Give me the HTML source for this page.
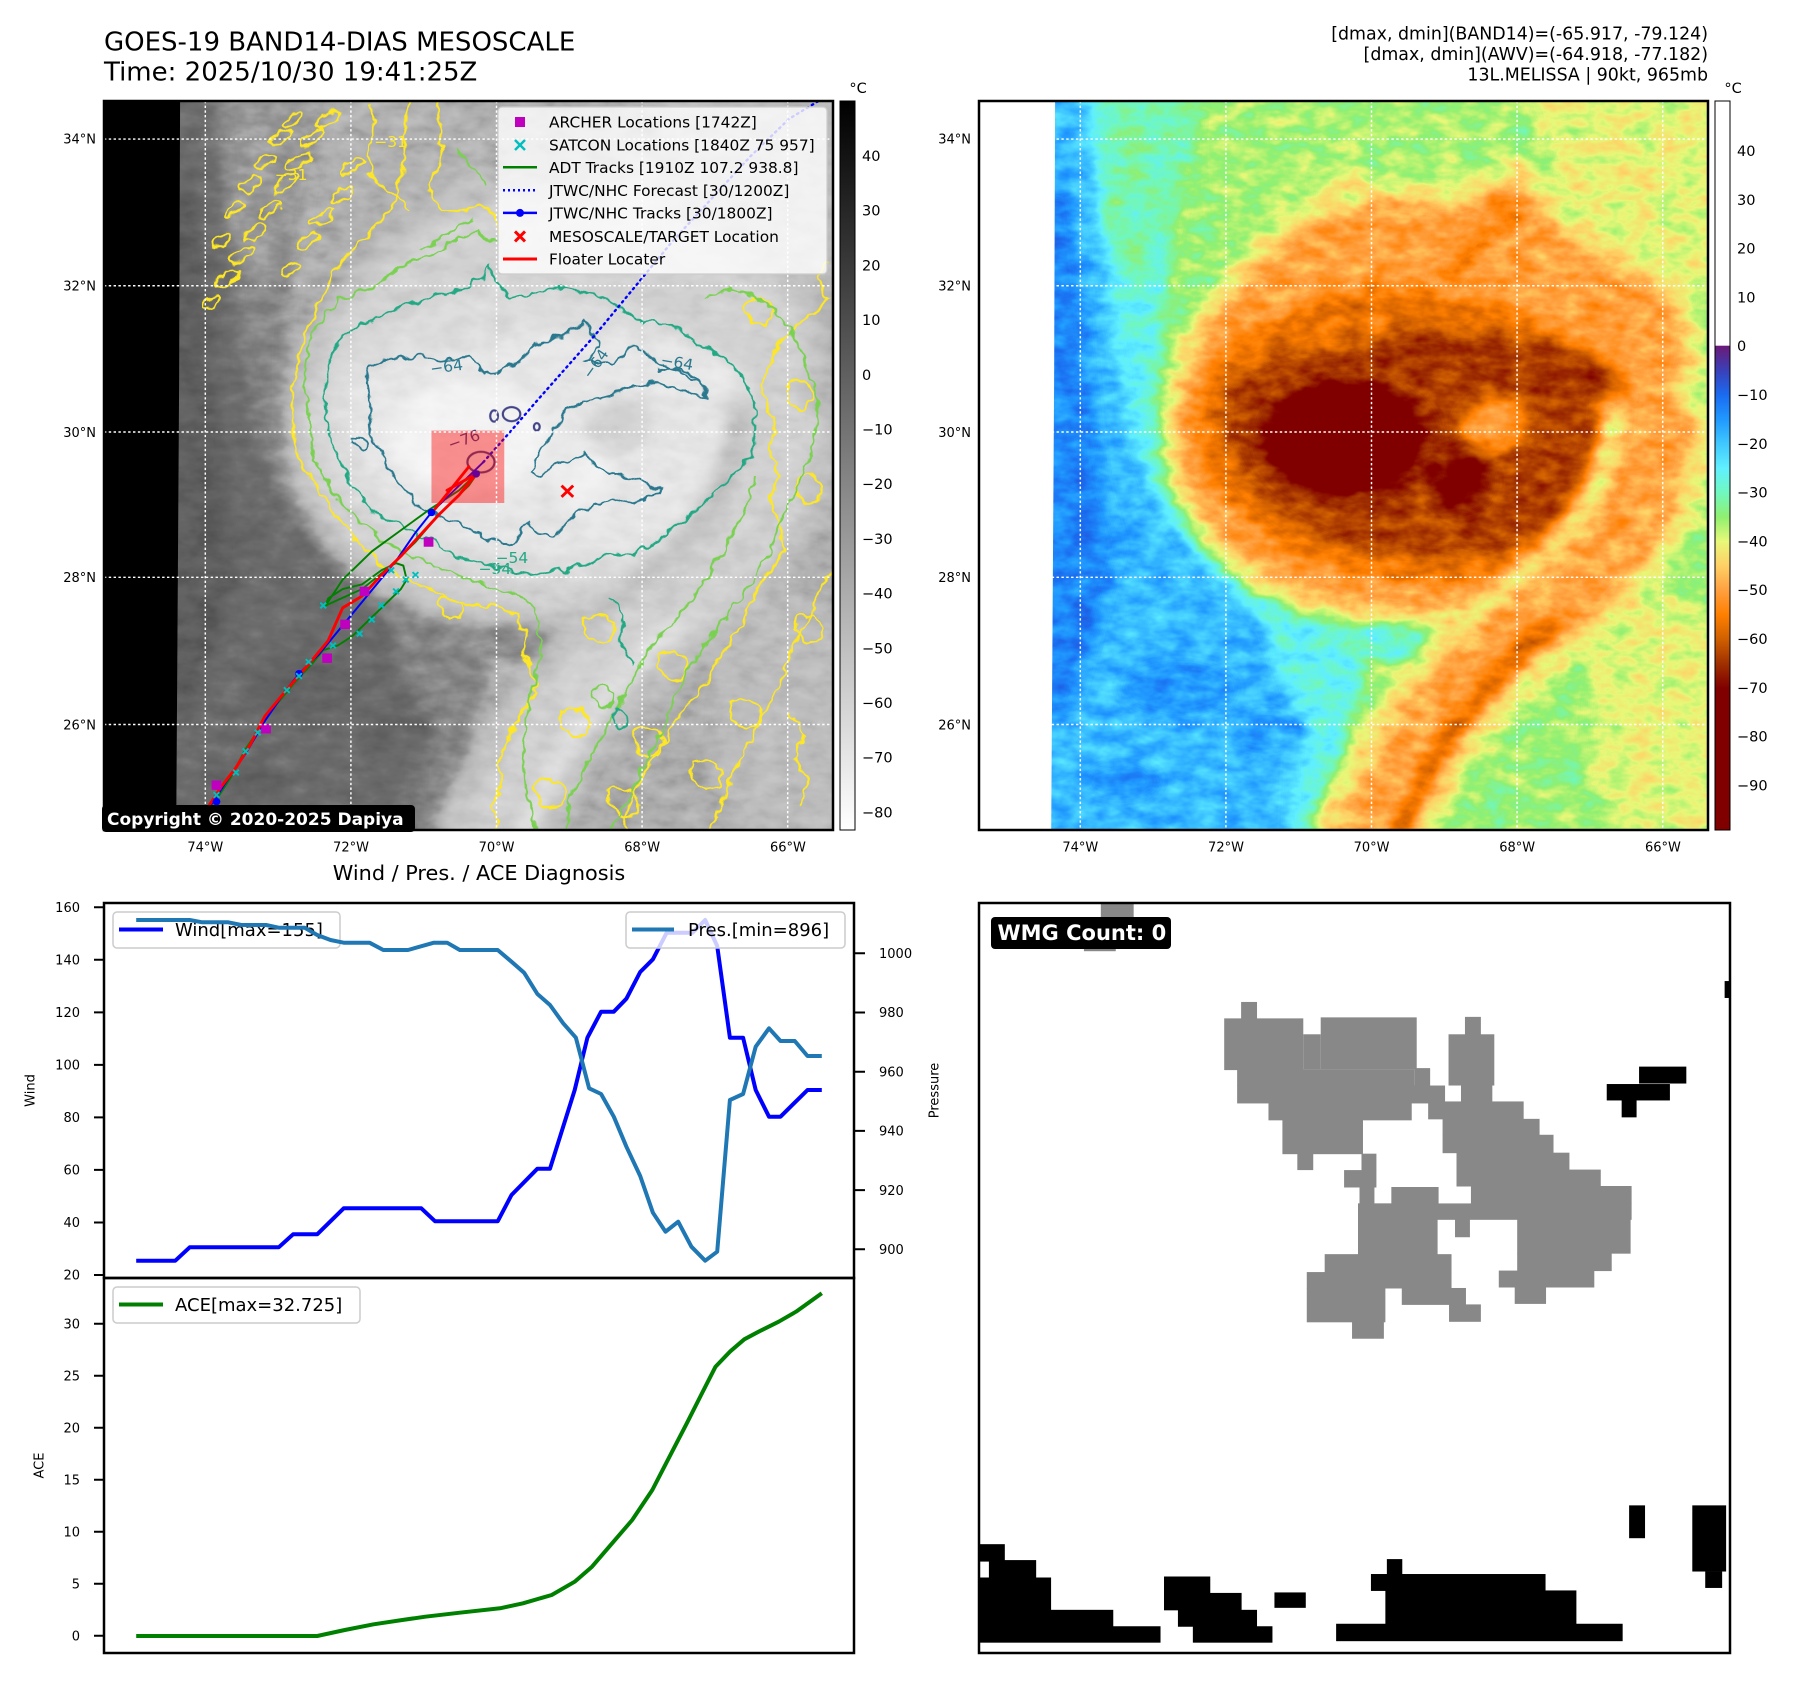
<!DOCTYPE html>
<html><head><meta charset="utf-8">
<style>
html,body{margin:0;padding:0;background:#fff;}
svg{display:block;}
text{font-family:"DejaVu Sans","Liberation Sans",sans-serif;}
</style></head>
<body>
<svg xmlns="http://www.w3.org/2000/svg" xmlns:xlink="http://www.w3.org/1999/xlink" width="1797" height="1690" viewBox="0 0 1797 1690">
<defs>
  <linearGradient id="gL" x1="0" y1="0" x2="0" y2="1">
    <stop offset="0" stop-color="#000"/><stop offset="1" stop-color="#fff"/>
  </linearGradient>
  <linearGradient id="gR" x1="0" y1="0" x2="0" y2="1">
    <stop offset="0" stop-color="#fff"/>
    <stop offset="0.335" stop-color="#fff"/>
    <stop offset="0.3363" stop-color="#6a1a78"/>
    <stop offset="0.3698" stop-color="#3a40b8"/>
    <stop offset="0.4033" stop-color="#1a6bf0"/>
    <stop offset="0.4368" stop-color="#2099ff"/>
    <stop offset="0.4703" stop-color="#40c8ff"/>
    <stop offset="0.5037" stop-color="#60f0ff"/>
    <stop offset="0.5372" stop-color="#70f8c0"/>
    <stop offset="0.5707" stop-color="#90f070"/>
    <stop offset="0.6042" stop-color="#e8f878"/>
    <stop offset="0.6377" stop-color="#ffd066"/>
    <stop offset="0.6711" stop-color="#ffa040"/>
    <stop offset="0.7046" stop-color="#ff8000"/>
    <stop offset="0.7381" stop-color="#d06000"/>
    <stop offset="0.7716" stop-color="#a03000"/>
    <stop offset="0.8051" stop-color="#800000"/>
    <stop offset="1" stop-color="#800000"/>
  </linearGradient>
  <clipPath id="mapclip"><rect x="8" y="2" width="1502" height="1550"/></clipPath>
  <filter id="fL" filterUnits="userSpaceOnUse" x="-60" y="-60" width="1700" height="1700" color-interpolation-filters="sRGB">
    <feGaussianBlur in="SourceGraphic" stdDeviation="14" result="b"/>
    <feTurbulence type="fractalNoise" baseFrequency="0.02 0.035" numOctaves="3" seed="3" result="t"/>
    <feColorMatrix in="t" type="matrix" values="1 0 0 0 0  1 0 0 0 0  1 0 0 0 0  0 0 0 0 1" result="n"/>
    <feComposite in="b" in2="n" operator="arithmetic" k1="0" k2="1" k3="0.10" k4="-0.05" result="c"/>
    <feComponentTransfer in="c">
      <feFuncR type="table" tableValues="0 .02 .04 .06 .08 .1 .12 .14 .16 .18 .22 .28 .34 .39 .43 .5 .58 .68 .74 .78 .82 .85 .88 .91 .93 .95 .97 .98"/>
      <feFuncG type="table" tableValues="0 .02 .04 .06 .08 .1 .12 .14 .16 .18 .22 .28 .34 .39 .43 .5 .58 .68 .74 .78 .82 .85 .88 .91 .93 .95 .97 .98"/>
      <feFuncB type="table" tableValues="0 .02 .04 .06 .08 .1 .12 .14 .16 .18 .22 .28 .34 .39 .43 .5 .58 .68 .74 .78 .82 .85 .88 .91 .93 .95 .97 .98"/>
    </feComponentTransfer>
  </filter>
  <filter id="fR" filterUnits="userSpaceOnUse" x="-60" y="-60" width="1700" height="1700" color-interpolation-filters="sRGB">
    <feGaussianBlur in="SourceGraphic" stdDeviation="14" result="b"/>
    <feTurbulence type="fractalNoise" baseFrequency="0.02 0.035" numOctaves="3" seed="3" result="t"/>
    <feColorMatrix in="t" type="matrix" values="1 0 0 0 0  1 0 0 0 0  1 0 0 0 0  0 0 0 0 1" result="n"/>
    <feComposite in="b" in2="n" operator="arithmetic" k1="0" k2="1" k3="0.10" k4="-0.05" result="c"/>
    <feComponentTransfer in="c">
      <feFuncR type="table" tableValues="1 1 1 1 1 1 1 1 1 1 .416 .227 .102 .125 .25 .376 .44 .565 .91 1 1 1 .816 .627 .502 .502 .502 .502"/>
      <feFuncG type="table" tableValues="1 1 1 1 1 1 1 1 1 1 .102 .251 .42 .6 .78 .94 .97 .94 .97 .82 .63 .5 .376 .19 0 0 0 0"/>
      <feFuncB type="table" tableValues="1 1 1 1 1 1 1 1 1 1 .471 .722 .94 1 1 1 .75 .44 .47 .4 .25 0 0 0 0 0 0 0"/>
    </feComponentTransfer>
  </filter>
  <filter id="jag" filterUnits="userSpaceOnUse" x="-60" y="-60" width="1700" height="1700">
    <feTurbulence type="fractalNoise" baseFrequency="0.04" numOctaves="2" seed="7" result="t"/>
    <feDisplacementMap in="SourceGraphic" in2="t" scale="24" xChannelSelector="R" yChannelSelector="G"/>
  </filter>
  <g id="field">
    <rect x="-100" y="-100" width="1800" height="1800" fill="#a1a1a1"/>
    <path d="M450,-100 L1700,-100 L1700,480 L1420,420 L1250,330 L1100,250 L900,200 L700,230 L560,300 L480,250 Z" fill="#a3a3a3"/>
    <path d="M1100,-100 L1700,-100 L1700,450 L1450,400 L1250,280 Z" fill="#aaaaaa"/>
    <ellipse cx="760" cy="180" rx="60" ry="40" fill="#acacac"/>
    <ellipse cx="1300" cy="150" rx="120" ry="60" fill="#acacac"/>
    <path d="M-100,-100 L480,-100 L440,150 L400,350 L380,500 L380,650 L400,800 L470,920 L600,1030 L740,1090 L800,1200 L760,1400 L740,1700 L-100,1700 Z" fill="#919191"/>
    <path d="M250,-100 L470,-100 L440,150 L410,330 L330,400 L270,300 Z" fill="#999999"/>
    <path d="M-100,-100 L230,-100 L250,200 L280,450 L320,700 L380,870 L480,1000 L600,1120 L660,1300 L640,1700 L-100,1700 Z" fill="#828282"/>
    <path d="M-100,200 L200,200 L230,500 L260,800 L300,950 L260,1100 L200,1300 L-100,1300 Z" fill="#777777"/>
    <ellipse cx="420" cy="1250" rx="120" ry="60" fill="#7b7b7b"/>
    <ellipse cx="600" cy="1340" rx="90" ry="50" fill="#7d7d7d"/>
    <ellipse cx="300" cy="1450" rx="80" ry="40" fill="#7b7b7b"/>
    <ellipse cx="1430" cy="1330" rx="170" ry="270" fill="#aaaaaa"/>
    <ellipse cx="1500" cy="720" rx="50" ry="220" fill="#a4a4a4"/>
    <path d="M380,720 C380,540 480,390 580,300 C690,195 820,160 920,180 C1000,190 1060,150 1130,110 C1180,210 1280,290 1390,330 C1500,390 1520,520 1480,630 C1460,780 1440,930 1360,1040 C1270,1120 1100,1110 1000,1120 C850,1140 690,1110 580,1050 C470,970 390,870 380,720 Z" fill="#aeaeae"/>
    <path d="M420,720 C420,560 510,420 600,330 C700,230 820,200 920,220 C1000,230 1060,200 1120,160 C1160,250 1260,330 1360,370 C1460,420 1480,520 1440,620 C1420,760 1400,900 1330,1000 C1250,1080 1100,1070 1000,1080 C850,1100 700,1070 600,1010 C500,940 430,850 420,720 Z" fill="#bdbdbd"/>
    <path d="M450,700 C450,570 530,490 620,470 C720,400 850,380 960,410 C1060,430 1160,460 1260,520 C1350,570 1390,710 1370,850 C1350,960 1250,1010 1150,1020 C1000,1030 850,1030 720,990 C600,950 470,830 450,700 Z" fill="#cacaca"/>
    <path d="M510,640 C540,540 680,520 800,530 C900,490 1000,470 1100,510 C1210,540 1310,620 1320,760 C1320,870 1230,940 1100,955 C950,980 800,965 700,925 C590,880 500,760 510,640 Z" fill="#d6d6d6"/>
    <path d="M960,380 L1120,230" stroke="#c8c8c8" stroke-width="40" fill="none"/>
    <ellipse cx="770" cy="720" rx="190" ry="140" fill="#dcdcdc"/>
    <ellipse cx="1160" cy="565" rx="170" ry="50" transform="rotate(12 1160 565)" fill="#d8d8d8"/>
    <ellipse cx="900" cy="540" rx="100" ry="45" fill="#dadada"/>
    <ellipse cx="1000" cy="810" rx="70" ry="70" fill="#dedede"/>
    <ellipse cx="760" cy="720" rx="160" ry="115" fill="#eeeeee"/>
    <ellipse cx="995" cy="805" rx="45" ry="50" fill="#e8e8e8"/>
    <ellipse cx="1070" cy="690" rx="70" ry="60" fill="#c0c0c0"/>
    <path d="M800,1600 C880,1380 1000,1220 1150,1110 C1300,1000 1400,880 1410,650" stroke="#aeaeae" stroke-width="240" fill="none"/>
    <path d="M800,1600 C880,1380 1000,1220 1150,1110 C1300,1000 1400,880 1410,650" stroke="#bcbcbc" stroke-width="140" fill="none"/>
    <path d="M880,1560 C960,1360 1060,1220 1200,1100" stroke="#cecece" stroke-width="40" fill="none"/>
    <ellipse cx="850" cy="1150" rx="80" ry="40" fill="#939393"/>
  </g>
</defs>

<!-- Titles -->
<text x="104" y="50.5" font-size="26">GOES-19 BAND14-DIAS MESOSCALE</text>
<text x="104" y="80.5" font-size="26">Time: 2025/10/30 19:41:25Z</text>
<text x="1708" y="39.5" font-size="17.4" text-anchor="end">[dmax, dmin](BAND14)=(-65.917, -79.124)</text>
<text x="1708" y="60" font-size="17.4" text-anchor="end">[dmax, dmin](AWV)=(-64.918, -77.182)</text>
<text x="1708" y="80.5" font-size="17.4" text-anchor="end">13L.MELISSA | 90kt, 965mb</text>

<!-- LEFT MAP -->
<svg x="100" y="100" width="760" height="735" viewBox="0 0 1566 1563" preserveAspectRatio="none">
  <g clip-path="url(#mapclip)">
    <use href="#field" xlink:href="#field" filter="url(#fL)"/>
    <path d="M8,2 L165,2 L163,600 L157,1552 L8,1552 Z" fill="#000"/>
    <g fill="none" stroke-width="4.5" stroke-linejoin="round" filter="url(#jag)">
      <g stroke="#fde725">
        <path d="M640,5 L625,60 630,120 615,180 600,230 570,270 540,300 510,330 480,370 460,420 440,460 420,500 410,540 400,600 395,660 400,720 410,760 430,800 460,840 480,880 510,910 540,950 580,990 620,1010 660,1040 700,1050 740,1070 790,1075 830,1080 860,1100 880,1140 870,1180 890,1220 900,1260 870,1300 850,1340 830,1380 820,1420 830,1460 810,1500 820,1555"/>
        <path d="M1500,340 L1480,380 1500,420 1470,460 1440,470 1400,520 1380,560 1360,620 1390,680 1380,740 1400,800 1380,850 1400,900 1410,960 1380,1000 1350,1050 1330,1100 1300,1150 1270,1200 1240,1250 1200,1300 1170,1350 1140,1400 1110,1450 1090,1500 1080,1555"/>
        <path d="M1510,1000 L1480,1050 1450,1120 1420,1180 1400,1250 1360,1320 1330,1380 1300,1440 1280,1500 1260,1555"/>
        <g>
          <ellipse cx="260" cy="380" rx="28" ry="11" transform="rotate(-35 260 380)"/>
          <ellipse cx="290" cy="330" rx="28" ry="11" transform="rotate(-35 290 330)"/>
          <ellipse cx="250" cy="300" rx="24" ry="10" transform="rotate(-35 250 300)"/>
          <ellipse cx="320" cy="280" rx="28" ry="11" transform="rotate(-35 320 280)"/>
          <ellipse cx="280" cy="230" rx="24" ry="10" transform="rotate(-35 280 230)"/>
          <ellipse cx="350" cy="230" rx="28" ry="11" transform="rotate(-35 350 230)"/>
          <ellipse cx="310" cy="180" rx="24" ry="10" transform="rotate(-35 310 180)"/>
          <ellipse cx="380" cy="180" rx="28" ry="11" transform="rotate(-35 380 180)"/>
          <ellipse cx="340" cy="130" rx="24" ry="10" transform="rotate(-35 340 130)"/>
          <ellipse cx="410" cy="130" rx="28" ry="11" transform="rotate(-35 410 130)"/>
          <ellipse cx="370" cy="80" rx="24" ry="10" transform="rotate(-35 370 80)"/>
          <ellipse cx="440" cy="80" rx="28" ry="11" transform="rotate(-35 440 80)"/>
          <ellipse cx="400" cy="40" rx="24" ry="10" transform="rotate(-35 400 40)"/>
          <ellipse cx="470" cy="40" rx="28" ry="11" transform="rotate(-35 470 40)"/>
          <ellipse cx="430" cy="300" rx="26" ry="10" transform="rotate(-35 430 300)"/>
          <ellipse cx="460" cy="250" rx="26" ry="10" transform="rotate(-35 460 250)"/>
          <ellipse cx="500" cy="200" rx="26" ry="10" transform="rotate(-35 500 200)"/>
          <ellipse cx="520" cy="140" rx="26" ry="10" transform="rotate(-35 520 140)"/>
          <ellipse cx="395" cy="360" rx="22" ry="9" transform="rotate(-35 395 360)"/>
          <ellipse cx="230" cy="430" rx="20" ry="8" transform="rotate(-35 230 430)"/>
        </g>
        <path d="M560,5 C580,60 540,110 560,160 C580,200 620,190 640,240"/>
        <path d="M700,5 C690,60 720,110 690,160 C660,210 700,250 760,230 C800,215 820,240 820,280"/>
        <path d="M1000,1100 C1040,1080 1080,1120 1050,1150 C1020,1170 990,1130 1000,1100 Z"/>
        <path d="M1150,1180 C1190,1160 1230,1200 1200,1230 C1170,1250 1140,1210 1150,1180 Z"/>
        <path d="M950,1300 C990,1280 1030,1320 1000,1350 C970,1370 940,1330 950,1300 Z"/>
        <path d="M900,1450 C940,1430 980,1470 950,1500 C920,1520 890,1480 900,1450 Z"/>
        <path d="M1100,1340 C1140,1320 1180,1360 1150,1390 C1120,1410 1090,1370 1100,1340 Z"/>
        <path d="M1050,1470 C1090,1450 1130,1490 1100,1520 C1070,1540 1040,1500 1050,1470 Z"/>
        <path d="M1220,1410 C1260,1390 1300,1430 1270,1460 C1240,1480 1210,1440 1220,1410 Z"/>
        <path d="M1300,1280 C1340,1260 1380,1300 1350,1330 C1320,1350 1290,1310 1300,1280 Z"/>
        <path d="M1420,600 C1450,580 1480,620 1460,650 C1430,670 1400,630 1420,600 Z"/>
        <path d="M1440,800 C1470,780 1500,820 1480,850 C1450,870 1420,830 1440,800 Z"/>
        <path d="M1420,1300 L1450,1350 1430,1400 1460,1450 1440,1500"/>
        <path d="M1330,430 C1360,410 1400,440 1380,470 C1350,490 1320,460 1330,430 Z"/>
        <path d="M1440,1100 C1470,1080 1500,1120 1480,1150 C1450,1170 1420,1130 1440,1100 Z"/>
        <path d="M700,1060 C730,1050 760,1080 740,1100 C715,1110 690,1085 700,1060 Z"/>
      </g>
      <g stroke="#7ad151">
        <path d="M430,520 L460,460 500,420 560,400 600,370 650,340 700,320 740,290 780,280 800,300 820,300"/>
        <path d="M1250,420 L1300,400 1350,420 1400,460 1440,520 1470,600 1480,680 1460,760 1430,840 1400,900 1380,960 1350,1020 1300,1080 1260,1140 1220,1200 1190,1260 1160,1330 1130,1400 1100,1460 1070,1520 1050,1555"/>
        <path d="M430,520 L420,600 430,680 440,760 470,820 510,870 560,920 620,960 690,990 760,1020 820,1040 880,1060 900,1100 910,1160 900,1220 880,1300 870,1400 880,1480 900,1555"/>
        <path d="M960,1555 L970,1480 1000,1420 1030,1360 1060,1300 1100,1230 1130,1170 1170,1120 1220,1060 1260,1000 1300,930 1330,870 1350,800"/>
        <path d="M660,320 L690,300 720,285 750,265 770,250"/>
        <path d="M740,110 C760,130 780,150 790,180"/>
        <path d="M1020,1250 C1050,1240 1070,1270 1050,1290 C1030,1300 1010,1275 1020,1250 Z"/>
      </g>
      <path stroke="#22a884" d="M470,560 L500,500 530,485 560,470 590,455 620,440 650,430 680,420 720,410 760,400 790,370 800,350 815,380 840,420 870,415 900,410 930,400 960,400 1000,410 1040,420 1080,450 1120,470 1150,475 1180,480 1210,500 1230,520 1260,530 1300,560 1330,600 1340,620 1350,660 1350,700 1345,740 1340,760 1310,790 1300,800 1270,830 1250,850 1220,880 1200,900 1170,920 1150,940 1120,955 1100,970 1070,965 1050,960 1020,980 1000,990 970,995 950,1000 920,1005 900,1010 870,1005 850,1000 820,995 800,990 780,985 760,980 740,970 720,960 700,950 690,940 670,930 650,920 630,910 610,900 580,885 560,870 540,845 520,820 505,790 490,760 480,730 470,700 465,660 460,630 465,600 Z"/>
      <path stroke="#22a884" d="M1050,1060 L1080,1100 1070,1150 1100,1200"/>
      <path stroke="#22a884" d="M1060,1300 C1080,1290 1100,1310 1085,1330 C1070,1340 1050,1320 1060,1300 Z"/>
      <path stroke="#2a788e" d="M550,570 L600,550 660,545 700,555 760,545 790,580 830,575 860,560 900,520 950,500 1000,470 1030,520 1000,560 1060,560 1100,520 1150,560 1200,580 1240,600 1250,630 1200,620 1150,600 1100,610 1050,630 1000,640 960,660 940,700 920,730 900,760 890,790 900,800 950,770 1000,750 1030,790 1080,800 1120,810 1160,830 1100,860 1060,850 1020,860 980,880 960,900 940,930 900,920 880,900 860,930 850,945 800,935 760,910 720,890 690,880 650,860 620,820 590,780 580,740 560,720 555,680 560,640 550,600 Z"/>
      <path stroke="#2a788e" d="M1150,575 C1200,560 1250,590 1250,630"/>
      <path stroke="#2a788e" d="M520,720 C540,710 560,730 550,740 C535,745 515,735 520,720 Z"/>
    </g>
    <g fill="none" stroke-width="4.5" stroke="#414487">
      <ellipse cx="848" cy="668" rx="18" ry="15"/>
      <ellipse cx="812" cy="672" rx="8" ry="12"/>
      <ellipse cx="900" cy="695" rx="6" ry="8"/>
      <ellipse cx="785" cy="770" rx="28" ry="22"/>
    </g>
    <g font-size="32" font-family="DejaVu Sans">
      <text x="680" y="578" fill="#2a788e" transform="rotate(-8 715 565)">−64</text>
      <text x="990" y="585" fill="#2a788e" transform="rotate(-55 1010 570)">−64</text>
      <text x="1155" y="570" fill="#2a788e" transform="rotate(10 1195 560)">−64</text>
      <text x="715" y="735" fill="#414487" transform="rotate(-20 745 720)">−76</text>
      <text x="815" y="985" fill="#22a884">−54</text>
      <text x="780" y="1008" fill="#22a884">−54</text>
      <text x="565" y="100" fill="#fde725">−31</text>
      <text x="360" y="170" fill="#fde725">−31</text>
    </g>
    <g fill="none" stroke-linejoin="round" stroke-linecap="round">
      <path stroke="#008000" stroke-width="4" d="M235,1495 L270,1440 300,1380 330,1335 360,1290 400,1240 440,1195 460,1170 490,1160 520,1140 560,1100 590,1070 620,1040 632,1020 625,990 610,985 580,1000 540,1030 500,1040 470,1060 465,1075 500,1020 560,960 620,915 680,870 740,830 780,790"/>
      <path stroke="#008000" stroke-width="4" d="M465,1075 L540,1040 600,990 650,940 700,880 760,820 780,790"/>
      <path stroke="#0000ff" stroke-width="5" stroke-dasharray="3 9" d="M790,770 L850,700 900,640 960,570 1020,500 1100,400 1180,300 1260,210 1340,120 1420,40 1500,-10"/>
      <path stroke="#0000ff" stroke-width="4" d="M225,1505 L260,1450 300,1390 340,1320 380,1260 410,1220 450,1180 490,1130 530,1080 570,1030 610,980 650,920 683,877 720,840 760,800 790,770"/>
      <path stroke="#ff0000" stroke-width="6" d="M225,1500 L250,1460 280,1420 310,1370 340,1310 380,1260 430,1200 470,1150 500,1080 540,1055 580,1010 620,970 660,925 700,880 740,840 775,795"/>
      <path stroke="#ff0000" stroke-width="6" d="M690,870 L760,780 M715,830 L775,795"/>
    </g>
    <g fill="#0000ff">
      <circle cx="240" cy="1492" r="8"/><circle cx="410" cy="1220" r="8"/><circle cx="683" cy="877" r="8"/><circle cx="775" cy="795" r="8"/>
    </g>
    <g stroke="#00bfbf" stroke-width="4">
      <path d="M234,1472 l12,12 m0,-12 l-12,12"/><path d="M274,1424 l12,12 m0,-12 l-12,12"/>
      <path d="M294,1379 l12,12 m0,-12 l-12,12"/><path d="M319,1339 l12,12 m0,-12 l-12,12"/>
      <path d="M379,1249 l12,12 m0,-12 l-12,12"/><path d="M404,1219 l12,12 m0,-12 l-12,12"/>
      <path d="M424,1189 l12,12 m0,-12 l-12,12"/><path d="M454,1069 l12,12 m0,-12 l-12,12"/>
      <path d="M474,1154 l12,12 m0,-12 l-12,12"/><path d="M529,1129 l12,12 m0,-12 l-12,12"/>
      <path d="M554,1099 l12,12 m0,-12 l-12,12"/><path d="M574,1069 l12,12 m0,-12 l-12,12"/>
      <path d="M604,1039 l12,12 m0,-12 l-12,12"/><path d="M624,1014 l12,12 m0,-12 l-12,12"/>
      <path d="M594,994 l12,12 m0,-12 l-12,12"/><path d="M644,1004 l12,12 m0,-12 l-12,12"/>
    </g>
    <g fill="#bf00bf">
      <rect x="230" y="1447" width="20" height="20"/><rect x="332" y="1327" width="20" height="20"/>
      <rect x="458" y="1177" width="20" height="20"/><rect x="495" y="1105" width="20" height="20"/>
      <rect x="535" y="1035" width="20" height="20"/><rect x="667" y="930" width="20" height="20"/>
    </g>
    <rect x="683" y="703" width="150" height="154" fill="#ff0000" fill-opacity="0.42"/>
    <path d="M951,820 l24,24 m0,-24 l-24,24" stroke="#ff0000" stroke-width="6"/>
    <g stroke="#fff" stroke-width="3" stroke-dasharray="5 5">
      <path d="M217,2 V1552 M517,2 V1552 M817,2 V1552 M1117,2 V1552 M1417,2 V1552"/>
      <path d="M8,83 H1510 M8,395 H1510 M8,706 H1510 M8,1015 H1510 M8,1328 H1510"/>
    </g>
  </g>
</svg>
<rect x="498" y="107" width="329" height="167" rx="4" fill="#fff" fill-opacity="0.8" stroke="#cccccc" stroke-width="1.2"/>
<rect x="515" y="117" width="10" height="10" fill="#bf00bf"/>
<path d="M515,140 l10,10 m0,-10 l-10,10" stroke="#00bfbf" stroke-width="2.5"/>
<path d="M503,167.3 H537" stroke="#008000" stroke-width="2.5"/>
<path d="M503,190.3 H537" stroke="#0000ff" stroke-width="2.5" stroke-dasharray="2 3"/>
<path d="M503,212.9 H537" stroke="#0000ff" stroke-width="2.5"/><circle cx="520" cy="212.9" r="4" fill="#0000ff"/>
<path d="M515,231.4 l10,10 m0,-10 l-10,10" stroke="#ff0000" stroke-width="3"/>
<path d="M503,259 H537" stroke="#ff0000" stroke-width="3"/>
<g font-size="15.4">
  <text x="549" y="127.6">ARCHER Locations [1742Z]</text>
  <text x="549" y="150.7">SATCON Locations [1840Z 75 957]</text>
  <text x="549" y="172.8">ADT Tracks [1910Z 107.2 938.8]</text>
  <text x="549" y="195.8">JTWC/NHC Forecast [30/1200Z]</text>
  <text x="549" y="218.4">JTWC/NHC Tracks [30/1800Z]</text>
  <text x="549" y="241.9">MESOSCALE/TARGET Location</text>
  <text x="549" y="264.5">Floater Locater</text>
</g>
<rect x="102" y="805" width="313" height="27" rx="4" fill="#000"/>
<text x="107" y="825" font-size="17" font-weight="bold" fill="#fff">Copyright © 2020-2025 Dapiya</text>
<rect x="104" y="101" width="729" height="729" fill="none" stroke="#000" stroke-width="2.5"/>
<rect x="840" y="101" width="15" height="729" fill="url(#gL)" stroke="#000" stroke-width="1"/>
<text x="858" y="93" font-size="14.5" text-anchor="middle">°C</text>
<g font-size="14.5">
  <text x="862" y="161">40</text><text x="862" y="215.7">30</text><text x="862" y="270.4">20</text>
  <text x="862" y="325.1">10</text><text x="862" y="379.8">0</text><text x="862" y="434.5">−10</text>
  <text x="862" y="489.2">−20</text><text x="862" y="543.9">−30</text><text x="862" y="598.6">−40</text>
  <text x="862" y="653.3">−50</text><text x="862" y="708">−60</text><text x="862" y="762.7">−70</text>
  <text x="862" y="817.4">−80</text>
</g>
<g font-size="13">
  <g text-anchor="end">
    <text x="96" y="143.7">34°N</text><text x="96" y="290.5">32°N</text><text x="96" y="436.8">30°N</text>
    <text x="96" y="582.1">28°N</text><text x="96" y="729.3">26°N</text>
  </g>
  <g text-anchor="middle">
    <text x="205.3" y="851.5">74°W</text><text x="351" y="851.5">72°W</text><text x="496.6" y="851.5">70°W</text>
    <text x="642.2" y="851.5">68°W</text><text x="787.9" y="851.5">66°W</text>
  </g>
</g>

<!-- RIGHT MAP -->
<svg x="975" y="100" width="760" height="735" viewBox="0 0 1566 1563" preserveAspectRatio="none">
  <g clip-path="url(#mapclip)">
    <use href="#field" xlink:href="#field" filter="url(#fR)"/>
    <path d="M8,2 L165,2 L163,600 L157,1552 L8,1552 Z" fill="#fff"/>
    <g stroke="#fff" stroke-width="3" stroke-dasharray="5 5">
      <path d="M217,2 V1552 M517,2 V1552 M817,2 V1552 M1117,2 V1552 M1417,2 V1552"/>
      <path d="M8,83 H1510 M8,395 H1510 M8,706 H1510 M8,1015 H1510 M8,1328 H1510"/>
    </g>
  </g>
</svg>
<rect x="979" y="101" width="729" height="729" fill="none" stroke="#000" stroke-width="2.5"/>
<rect x="1715" y="101" width="15" height="729" fill="url(#gR)" stroke="#000" stroke-width="1"/>
<text x="1733" y="93" font-size="14.5" text-anchor="middle">°C</text>
<g font-size="14.5">
  <text x="1737" y="156">40</text><text x="1737" y="204.8">30</text><text x="1737" y="253.6">20</text>
  <text x="1737" y="302.4">10</text><text x="1737" y="351.2">0</text><text x="1737" y="400">−10</text>
  <text x="1737" y="448.8">−20</text><text x="1737" y="497.6">−30</text><text x="1737" y="546.4">−40</text>
  <text x="1737" y="595.2">−50</text><text x="1737" y="644">−60</text><text x="1737" y="692.8">−70</text>
  <text x="1737" y="741.6">−80</text><text x="1737" y="790.4">−90</text>
</g>
<g font-size="13">
  <g text-anchor="end">
    <text x="971" y="143.7">34°N</text><text x="971" y="290.5">32°N</text><text x="971" y="436.8">30°N</text>
    <text x="971" y="582.1">28°N</text><text x="971" y="729.3">26°N</text>
  </g>
  <g text-anchor="middle">
    <text x="1080.3" y="851.5">74°W</text><text x="1226" y="851.5">72°W</text><text x="1371.6" y="851.5">70°W</text>
    <text x="1517.2" y="851.5">68°W</text><text x="1662.9" y="851.5">66°W</text>
  </g>
</g>

<!-- BOTTOM LEFT CHARTS -->
<text x="479" y="880" font-size="20.8" text-anchor="middle">Wind / Pres. / ACE Diagnosis</text>
<polyline fill="none" stroke="#0000ff" stroke-width="4" stroke-linejoin="round" points="136.2,1260.7 175.3,1260.7 189.7,1247.3 278.7,1247.3 293.1,1234.3 317.2,1234.3 343.7,1208.3 421.3,1208.3 435.1,1221.3 497.7,1221.3 511.5,1195 537.4,1168.7 550,1168.7 574.7,1090 587.4,1037.7 601.1,1011.7 613.8,1011.7 626.4,998.7 640.2,972 652.9,959.3 666.7,932.7 692.5,932.7 705.2,920 717.2,946 729.9,1037.7 743.1,1037.7 755.7,1090 769,1116.7 780.5,1116.7 807.5,1090 821.8,1090"/>
<rect x="113" y="912" width="227" height="36" rx="4" fill="#fff" fill-opacity="0.8" stroke="#cccccc" stroke-width="1.5"/>
<path d="M119,929.5 H163" stroke="#0000ff" stroke-width="4"/>
<text x="175" y="936" font-size="18">Wind[max=155]</text>
<polyline fill="none" stroke="#1f77b4" stroke-width="4" stroke-linejoin="round" points="136.2,920 189.7,920 202.3,922.3 228.2,922.3 241.4,925 266.1,925 278.7,927.7 304.6,927.7 317.2,935 330.5,940 343.7,942.7 369.5,942.7 383.3,950 408,950 433.9,942.7 447.1,942.7 459.8,950 497.7,950 511.5,961.7 524.1,972.7 537.4,994 550,1005 563.2,1023.3 575.9,1037.7 589.1,1088.3 601.1,1094 613.8,1116.7 626.4,1146.7 640.2,1176 652.9,1212.7 665.5,1231.7 678.2,1221.7 691.4,1246.7 705.2,1260.7 717.2,1251.7 729.9,1100 743.1,1094 755.7,1046.7 769,1028.3 780.5,1041 794.8,1041 807.5,1056 821.8,1056"/>
<rect x="626" y="912" width="219" height="36" rx="4" fill="#fff" fill-opacity="0.8" stroke="#cccccc" stroke-width="1.5"/>
<path d="M632,929.5 H674" stroke="#1f77b4" stroke-width="4"/>
<text x="688" y="936" font-size="18">Pres.[min=896]</text>
<polyline fill="none" stroke="#008000" stroke-width="4" stroke-linejoin="round" points="136.2,1636 317.2,1636 344.8,1630 373.6,1624.3 402.3,1620 425.3,1616.7 459.8,1612.7 500,1608.3 523,1603.3 551.7,1595 574.7,1581.7 592,1566.7 609.2,1546.7 632.2,1520 652.3,1490 669.5,1456.7 686.8,1423.3 701.1,1395 715.5,1366.7 729.9,1351.7 744.3,1339.3 758.6,1331.7 778.7,1321.7 796,1311.7 821.8,1293.3"/>
<rect x="113" y="1287" width="247" height="36" rx="4" fill="#fff" fill-opacity="0.8" stroke="#cccccc" stroke-width="1.5"/>
<path d="M119,1304.5 H163" stroke="#008000" stroke-width="4"/>
<text x="175" y="1311" font-size="18">ACE[max=32.725]</text>
<rect x="104" y="903" width="750" height="375" fill="none" stroke="#000" stroke-width="2.5"/>
<rect x="104" y="1278" width="750" height="375" fill="none" stroke="#000" stroke-width="2.5"/>
<g stroke="#000" stroke-width="2">
  <path d="M94,907.3 H104 M94,959.8 H104 M94,1012.4 H104 M94,1064.9 H104 M94,1117.4 H104 M94,1169.9 H104 M94,1222.5 H104 M94,1275 H104"/>
  <path d="M854,953.3 H865 M854,1012.5 H865 M854,1071.7 H865 M854,1130.9 H865 M854,1190.1 H865 M854,1249.3 H865"/>
  <path d="M94,1323.7 H104 M94,1375.7 H104 M94,1427.7 H104 M94,1479.7 H104 M94,1531.7 H104 M94,1583.7 H104 M94,1635.7 H104"/>
</g>
<g font-size="13" text-anchor="end">
  <text x="80" y="912">160</text><text x="80" y="964.5">140</text><text x="80" y="1017.1">120</text>
  <text x="80" y="1069.6">100</text><text x="80" y="1122.1">80</text><text x="80" y="1174.6">60</text>
  <text x="80" y="1227.2">40</text><text x="80" y="1279.7">20</text>
  <text x="80" y="1328.4">30</text><text x="80" y="1380.4">25</text><text x="80" y="1432.4">20</text>
  <text x="80" y="1484.4">15</text><text x="80" y="1536.4">10</text><text x="80" y="1588.4">5</text>
  <text x="80" y="1640.4">0</text>
</g>
<g font-size="13">
  <text x="879" y="958">1000</text><text x="879" y="1017.2">980</text><text x="879" y="1076.4">960</text>
  <text x="879" y="1135.6">940</text><text x="879" y="1194.8">920</text><text x="879" y="1254">900</text>
</g>
<text font-size="13" text-anchor="middle" transform="translate(34.7,1090.5) rotate(-90)">Wind</text>
<text font-size="13" text-anchor="middle" transform="translate(43.7,1465.5) rotate(-90)">ACE</text>
<text font-size="13" text-anchor="middle" transform="translate(938.7,1090.5) rotate(-90)">Pressure</text>

<!-- BOTTOM RIGHT -->
<svg x="970" y="895" width="780" height="780" viewBox="0 0 1568 1568" preserveAspectRatio="none">
  <g fill="#888888">
    <rect x="263" y="18" width="66" height="30"/><rect x="229" y="95" width="64" height="18"/>
    <rect x="545" y="215" width="32" height="35"/><rect x="511" y="248" width="159" height="104"/>
    <rect x="670" y="280" width="35" height="70"/><rect x="705" y="246" width="193" height="104"/>
    <rect x="537" y="350" width="356" height="34"/><rect x="893" y="348" width="32" height="36"/>
    <rect x="537" y="383" width="418" height="36"/><rect x="987" y="382" width="63" height="34"/>
    <rect x="600" y="418" width="288" height="35"/><rect x="628" y="452" width="162" height="69"/>
    <rect x="658" y="520" width="32" height="33"/><rect x="995" y="245" width="32" height="36"/>
    <rect x="962" y="280" width="92" height="103"/><rect x="921" y="415" width="192" height="36"/>
    <rect x="950" y="450" width="195" height="33"/><rect x="950" y="482" width="223" height="37"/>
    <rect x="978" y="518" width="227" height="35"/><rect x="978" y="552" width="290" height="34"/>
    <rect x="1007" y="585" width="323" height="36"/><rect x="780" y="620" width="550" height="33"/>
    <rect x="975" y="652" width="30" height="36"/><rect x="1100" y="652" width="228" height="69"/>
    <rect x="1100" y="720" width="190" height="36"/><rect x="1063" y="755" width="192" height="34"/>
    <rect x="1095" y="788" width="63" height="34"/><rect x="787" y="520" width="30" height="34"/>
    <rect x="752" y="553" width="65" height="35"/><rect x="783" y="587" width="30" height="34"/>
    <rect x="847" y="587" width="95" height="34"/><rect x="780" y="620" width="160" height="103"/>
    <rect x="713" y="722" width="255" height="37"/><rect x="677" y="758" width="291" height="33"/>
    <rect x="677" y="790" width="158" height="69"/><rect x="868" y="790" width="129" height="34"/>
    <rect x="963" y="823" width="64" height="35"/><rect x="768" y="858" width="64" height="34"/>
  </g>
  <g fill="#000">
    <rect x="1517" y="173" width="12" height="34"/>
    <rect x="1345" y="345" width="95" height="34"/><rect x="1280" y="380" width="127" height="33"/>
    <rect x="1310" y="412" width="30" height="35"/>
    <rect x="1325" y="1227" width="32" height="66"/><rect x="1452" y="1227" width="68" height="133"/>
    <rect x="1478" y="1360" width="34" height="33"/>
    <rect x="20" y="1305" width="50" height="35"/><rect x="38" y="1337" width="95" height="36"/>
    <rect x="20" y="1372" width="143" height="66"/><rect x="20" y="1437" width="268" height="34"/>
    <rect x="20" y="1470" width="363" height="33"/>
    <rect x="390" y="1370" width="93" height="34"/><rect x="390" y="1403" width="156" height="35"/>
    <rect x="418" y="1437" width="159" height="34"/><rect x="448" y="1470" width="160" height="33"/>
    <rect x="612" y="1402" width="63" height="31"/>
    <rect x="838" y="1335" width="31" height="32"/><rect x="806" y="1365" width="351" height="34"/>
    <rect x="835" y="1398" width="384" height="68"/><rect x="736" y="1465" width="576" height="35"/>
  </g>
</svg>
<rect x="979" y="903" width="751" height="750" fill="none" stroke="#000" stroke-width="2.5"/>
<rect x="991" y="917" width="180" height="32" rx="4" fill="#000"/>
<text x="997.5" y="940" font-size="21" font-weight="bold" fill="#fff">WMG Count: 0</text>
</svg>
</body></html>
